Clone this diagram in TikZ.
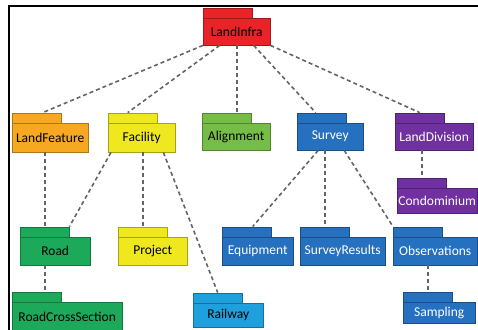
\documentclass[tikz,border=0pt]{standalone}
\usepackage{fontspec}
\setmainfont{Carlito}

\definecolor{infraRed}{RGB}{232,36,40}
\definecolor{featureOrange}{RGB}{247,168,35}
\definecolor{facilityYellow}{RGB}{240,232,30}
\definecolor{alignGreen}{RGB}{118,189,72}
\definecolor{surveyBlue}{RGB}{38,112,192}
\definecolor{divisionPurple}{RGB}{112,48,160}
\definecolor{roadGreen}{RGB}{28,170,90}
\definecolor{railBlue}{RGB}{30,160,220}
\definecolor{linkGray}{RGB}{100,100,100}

\begin{document}
\begin{tikzpicture}[
    x=1pt, y=1pt,
    pkg/.style={rectangle, draw, anchor=north west, minimum height=27pt, inner sep=0pt, font=\fontsize{13.5}{15}\selectfont},
    tab/.style={rectangle, draw, anchor=south west, minimum width=49pt, minimum height=10pt, inner sep=0pt},
    pkgcol/.style={fill=#1, draw=#1!70!black},
    link/.style={dash pattern=on 4pt off 3pt, line width=1.6pt, linkGray}
]
    \clip (0,0) rectangle (478,329);

    % Frame
    \draw[line width=2pt] (9,-5) |- (490,323);

    % LandInfra
    \node[pkg, pkgcol=infraRed, minimum width=67pt] (infra) at (203,311) {LandInfra};
    \node[tab, pkgcol=infraRed] (infra-tab) at (infra.north west) {};

    % First row
    \node[pkg, pkgcol=featureOrange, minimum width=76pt, minimum height=29pt] (lf) at (12,206) {LandFeature};
    \node[tab, pkgcol=featureOrange] (lf-tab) at (lf.north west) {};
    \node[pkg, pkgcol=facilityYellow, minimum width=67pt, minimum height=29pt] (fac) at (108,206) {Facility};
    \node[tab, pkgcol=facilityYellow] (fac-tab) at (fac.north west) {};
    \node[pkg, pkgcol=alignGreen, minimum width=68pt] (al) at (202,206) {Alignment};
    \node[tab, pkgcol=alignGreen] (al-tab) at (al.north west) {};
    \node[pkg, pkgcol=surveyBlue, text=white, minimum width=66pt] (sv) at (297,206) {Survey};
    \node[tab, pkgcol=surveyBlue] (sv-tab) at (sv.north west) {};
    \node[pkg, pkgcol=divisionPurple, text=white, minimum width=78pt] (ld) at (395,206) {LandDivision};
    \node[tab, pkgcol=divisionPurple] (ld-tab) at (ld.north west) {};

    % Condominium
    \node[pkg, pkgcol=divisionPurple, text=white, minimum width=80pt, minimum height=25pt] (condo) at (397,141) {Condominium};
    \node[tab, pkgcol=divisionPurple] (condo-tab) at (condo.north west) {};

    % Second row
    \node[pkg, pkgcol=roadGreen, minimum width=70pt, minimum height=28pt] (road) at (20,92) {Road};
    \node[tab, pkgcol=roadGreen] (road-tab) at (road.north west) {};
    \node[pkg, pkgcol=facilityYellow, minimum width=69pt, minimum height=28pt] (proj) at (118,92) {Project};
    \node[tab, pkgcol=facilityYellow] (proj-tab) at (proj.north west) {};
    \node[pkg, pkgcol=surveyBlue, text=white, minimum width=71pt, minimum height=28pt] (eq) at (222,92) {Equipment};
    \node[tab, pkgcol=surveyBlue] (eq-tab) at (eq.north west) {};
    \node[pkg, pkgcol=surveyBlue, text=white, minimum width=85pt, minimum height=28pt] (sr) at (300,92) {SurveyResults};
    \node[tab, pkgcol=surveyBlue] (sr-tab) at (sr.north west) {};
    \node[pkg, pkgcol=surveyBlue, text=white, minimum width=84pt, minimum height=28pt] (obs) at (393,92) {Observations};
    \node[tab, pkgcol=surveyBlue] (obs-tab) at (obs.north west) {};

    % Third row
    \node[pkg, pkgcol=roadGreen, minimum width=110pt, minimum height=29pt] (rcs) at (12,27) {RoadCrossSection};
    \node[tab, pkgcol=roadGreen] (rcs-tab) at (rcs.north west) {};
    \node[pkg, pkgcol=railBlue, minimum width=70pt, minimum height=24pt] (rail) at (193,26) {Railway};
    \node[tab, pkgcol=railBlue] (rail-tab) at (rail.north west) {};
    \node[pkg, pkgcol=surveyBlue, text=white, minimum width=72pt, minimum height=21pt] (samp) at (403,27) {Sampling};
    \node[tab, pkgcol=surveyBlue] (samp-tab) at (samp.north west) {};

    % LandInfra -> first row
    \draw[link] (infra.south west) -- ([xshift=6pt]lf-tab.north);
    \draw[link] ([xshift=-17pt]infra.south) -- ([xshift=-5pt]fac-tab.north);
    \draw[link] (infra.south) -- (infra.south |- al-tab.north);
    \draw[link] ([xshift=17pt]infra.south) -- ([xshift=-6pt]sv-tab.north);
    \draw[link] (infra.south east) -- (ld-tab.north);

    % LandFeature, Facility -> second row
    \draw[link] (lf.south -| road-tab.north) -- (road-tab.north);
    \draw[link] ([xshift=3pt]fac.south west) -- (road-tab.north east);
    \draw[link] (fac.south -| proj-tab.north) -- (proj-tab.north);
    \draw[link] ([xshift=-12pt]fac.south east) -- (rail-tab.north);

    % Road -> RoadCrossSection
    \draw[link] (road.south -| road-tab.north) -- (rcs-tab.north -| road-tab.north);

    % Survey -> second row
    \draw[link] ([xshift=-12pt]sv.south) -- ([xshift=6pt]eq-tab.north);
    \draw[link] (sv.south -| sr-tab.north) -- (sr-tab.north);
    \draw[link] ([xshift=14pt]sv.south) -- (obs-tab.north west);

    % LandDivision -> Condominium, Observations -> Sampling
    \draw[link] (ld.south -| condo-tab.north) -- (condo-tab.north);
    \draw[link] (obs.south -| samp-tab.north) -- (samp-tab.north);

\end{tikzpicture}
\end{document}
